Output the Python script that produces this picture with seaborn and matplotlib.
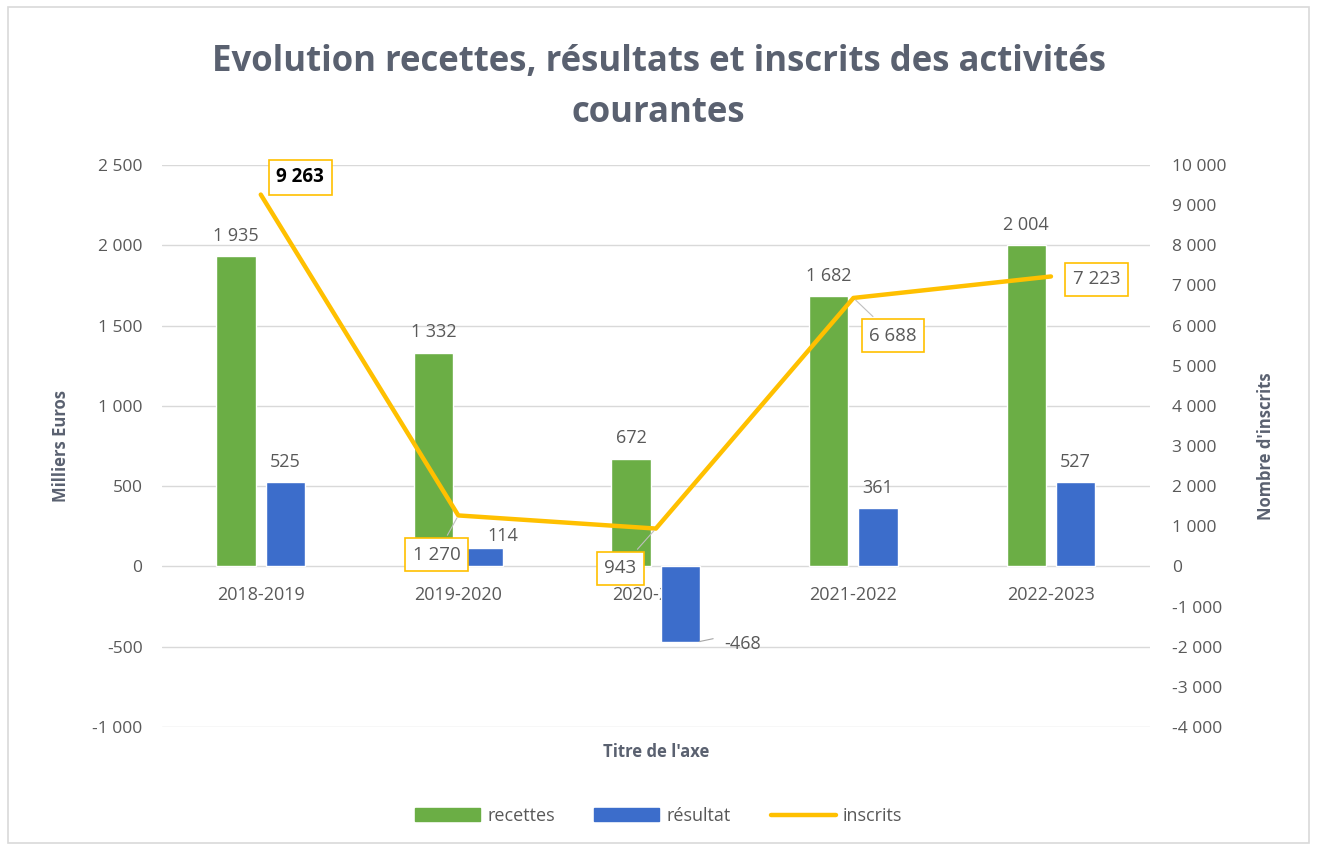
import numpy as np
import pandas as pd
import seaborn as sns
import matplotlib.pyplot as plt
from matplotlib.lines import Line2D
from matplotlib.patches import Patch, Rectangle

years = ["2018-2019", "2019-2020", "2020-2021", "2021-2022", "2022-2023"]
recettes = [1935, 1332, 672, 1682, 2004]
resultat = [525, 114, -468, 361, 527]
inscrits = [9263, 1270, 943, 6688, 7223]

GREEN = "#6BAE45"
BLUE = "#3C6DCB"
GOLD = "#FFC000"
GREY = "#595959"
TXT = "#5A6170"


def fmt(v):
    return f"{v:,}".replace(",", " ")


sns.set_theme(style="white")
plt.rcParams["font.family"] = ["Open Sans", "DejaVu Sans"]

df = pd.DataFrame({
    "annee": years * 2,
    "serie": ["recettes"] * 5 + ["résultat"] * 5,
    "valeur": recettes + resultat,
})

fig = plt.figure(figsize=(13.17, 8.5), dpi=100)
fig.patches.append(Rectangle((0.006, 0.008), 0.988, 0.984, transform=fig.transFigure,
                             fill=False, edgecolor="#D9D9D9", lw=1.2))
ax = fig.add_axes([0.123, 0.1447, 0.75, 0.6612])

sns.barplot(data=df, x="annee", y="valeur", hue="serie", palette=[GREEN, BLUE],
            width=0.5, gap=0.2, ax=ax, legend=False, saturation=1)

ax.set_ylim(-1000, 2500)
ax.set_xlim(-0.5, 4.5)
ax.set_yticks(np.arange(-1000, 2501, 500))
ax.set_yticklabels([fmt(v) for v in range(-1000, 2501, 500)], color=GREY, fontsize=12.5)
ax.grid(axis="y", color="#D9D9D9", lw=1)
ax.set_axisbelow(True)
for s in ax.spines.values():
    s.set_visible(False)
# category labels sit next to the zero line, like in Excel
ax.spines["bottom"].set_position(("data", 0))
ax.tick_params(axis="y", length=0, pad=14)
ax.tick_params(axis="x", length=0, pad=14)
ax.set_xticks(range(len(years)))
ax.set_xticklabels(years, color=GREY, fontsize=13)
ax.set_xlabel("")
ax.text(0.5, -0.045, "Titre de l'axe", transform=ax.transAxes, ha="center", va="center",
        fontsize=12, fontweight="bold", color=TXT)
ax.set_ylabel("Milliers Euros", fontsize=12, fontweight="bold", color=TXT, labelpad=16)

# bar value labels
for i, v in enumerate(recettes):
    ax.annotate(fmt(v), (i - 0.125, v), xytext=(0, 8), textcoords="offset points",
                ha="center", va="bottom", color=GREY, fontsize=13)
res_off = [(0, 8), (14, 2), (45, -62), (0, 8), (0, 8)]
for i, v in enumerate(resultat):
    dx, dy = res_off[i]
    ax.annotate(fmt(v), (i + 0.125, max(v, 0)), xytext=(dx, dy), textcoords="offset points",
                ha="center", va="bottom", color=GREY, fontsize=13)
ax.plot([2.22, 2.29], [-468, -450], color="#A6A6A6", lw=0.8)

# inscrits line on secondary axis
ax2 = ax.twinx()
xs = np.arange(len(years))
ax2.plot(xs, inscrits, color=GOLD, lw=3.2, solid_joinstyle="round")
ax2.set_ylim(-4000, 10000)
ax2.set_yticks(np.arange(-4000, 10001, 1000))
ax2.set_yticklabels([fmt(v) for v in range(-4000, 10001, 1000)], color=GREY, fontsize=12.5)
ax2.tick_params(axis="y", length=0, pad=16)
for s in ax2.spines.values():
    s.set_visible(False)
ax2.set_ylabel("Nombre d'inscrits", fontsize=12, fontweight="bold", color=TXT, labelpad=22)

lab_off = [(0.2, 9700), (-0.11, 290), (-0.18, -50), (0.2, 5750), (0.23, 7150)]
for i, v in enumerate(inscrits):
    lx, ly = lab_off[i]
    bold = i == 0
    ax2.annotate(fmt(v), (i, v), xytext=(i + lx, ly), textcoords="data",
                 ha="center", va="center", fontsize=13.5, color="black" if bold else GREY,
                 fontweight="bold" if bold else "normal",
                 bbox=dict(boxstyle="square,pad=0.4", fc="white", ec=GOLD, lw=1.2),
                 arrowprops=None if i in (0, 4) else dict(arrowstyle="-", color="#BFBFBF", lw=0.8))

fig.suptitle("Evolution recettes, résultats et inscrits des activités\ncourantes",
             x=0.5, y=0.948, va="top", fontsize=25, fontweight="bold", color=TXT,
             linespacing=1.55)

handles = [Patch(color=GREEN), Patch(color=BLUE), Line2D([0], [0], color=GOLD, lw=3.2)]
fig.legend(handles, ["recettes", "résultat", "inscrits"], loc="center", ncol=3,
           bbox_to_anchor=(0.5, 0.04), frameon=False, fontsize=13, labelcolor=GREY,
           handlelength=3.6, handleheight=0.7, columnspacing=2.2, handletextpad=0.4)

fig.savefig("out.png", dpi=100, facecolor="white")
